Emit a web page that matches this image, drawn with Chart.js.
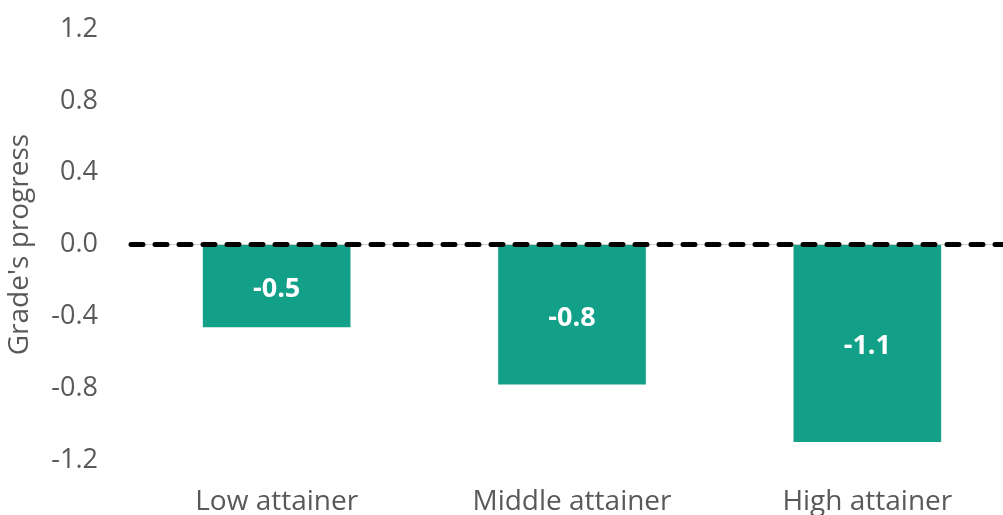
<!DOCTYPE html>
<html>
<head>
<meta charset="utf-8">
<script src="https://cdn.jsdelivr.net/npm/chart.js@4/dist/chart.umd.min.js"></script>
<style>
  html, body { margin: 0; padding: 0; background: #fff; overflow: hidden; }
  .wrap { width: 1015px; height: 558px; margin-top: -18px; }
</style>
</head>
<body>
<div class="wrap"><canvas id="progress"></canvas></div>
<script>
const groups = ["Low attainer", "Middle attainer", "High attainer"];
const progress = [-0.46, -0.78, -1.1];
const yTicks = [-1.2, -0.8, -0.4, 0.0, 0.4, 0.8, 1.2];

const barColor = "#13A089";
const textGrey = "#595959";

// value labels in the middle of each bar, plus the dashed zero line
const barLabels = {
  id: "barLabels",
  afterDatasetsDraw(chart) {
    const ctx = chart.ctx;
    const meta = chart.getDatasetMeta(0);
    ctx.save();
    ctx.fillStyle = "#fff";
    ctx.font = "bold 27px 'Open Sans'";
    ctx.textAlign = "center";
    ctx.textBaseline = "middle";
    meta.data.forEach(function (bar, i) {
      const mid = (bar.y + bar.base) / 2 + 3;
      ctx.fillText(progress[i].toFixed(1), bar.x, mid);
    });

    const y0 = chart.scales.y.getPixelForValue(0);
    ctx.strokeStyle = "#000";
    ctx.lineWidth = 5;
    ctx.lineCap = "round";
    ctx.setLineDash([12, 12]);
    ctx.beginPath();
    ctx.moveTo(chart.chartArea.left + 2, y0);
    ctx.lineTo(chart.chartArea.right, y0);
    ctx.stroke();
    ctx.restore();
  }
};

const ctx = document.getElementById("progress").getContext("2d");
new Chart(ctx, {
  type: "bar",
  data: {
    labels: groups,
    datasets: [{
      data: progress,
      backgroundColor: barColor,
      barPercentage: 0.5,
      categoryPercentage: 1.0
    }]
  },
  options: {
    responsive: true,
    maintainAspectRatio: false,
    animation: false,
    layout: { padding: { top: 10, bottom: 0, left: 0, right: 0 } },
    plugins: {
      legend: { display: false },
      tooltip: { enabled: false }
    },
    scales: {
      x: {
        grid: { display: false, drawTicks: false },
        border: { display: false },
        ticks: {
          color: textGrey,
          font: { family: "'Open Sans'", size: 28 },
          padding: 25
        },
        afterFit(scale) { scale.height = 80; }
      },
      y: {
        min: -1.2,
        max: 1.2,
        afterBuildTicks(scale) {
          scale.ticks = yTicks.map(function (v) { return { value: v }; });
        },
        grid: {
          drawTicks: false,
          color: function (c) { return c.tick && c.tick.value === 0 ? "#d0d0d0" : "transparent"; }
        },
        border: { display: false },
        ticks: {
          color: textGrey,
          font: { family: "'Open Sans'", size: 27 },
          padding: 31,
          callback: function (v) { return v.toFixed(1); }
        },
        title: {
          display: true,
          text: "Grade's progress",
          color: textGrey,
          font: { family: "'Open Sans'", size: 28 },
          padding: { top: 3, bottom: 0 }
        },
        afterFit(scale) { scale.width = 129; }
      }
    }
  },
  plugins: [barLabels]
});
</script>
</body>
</html>
